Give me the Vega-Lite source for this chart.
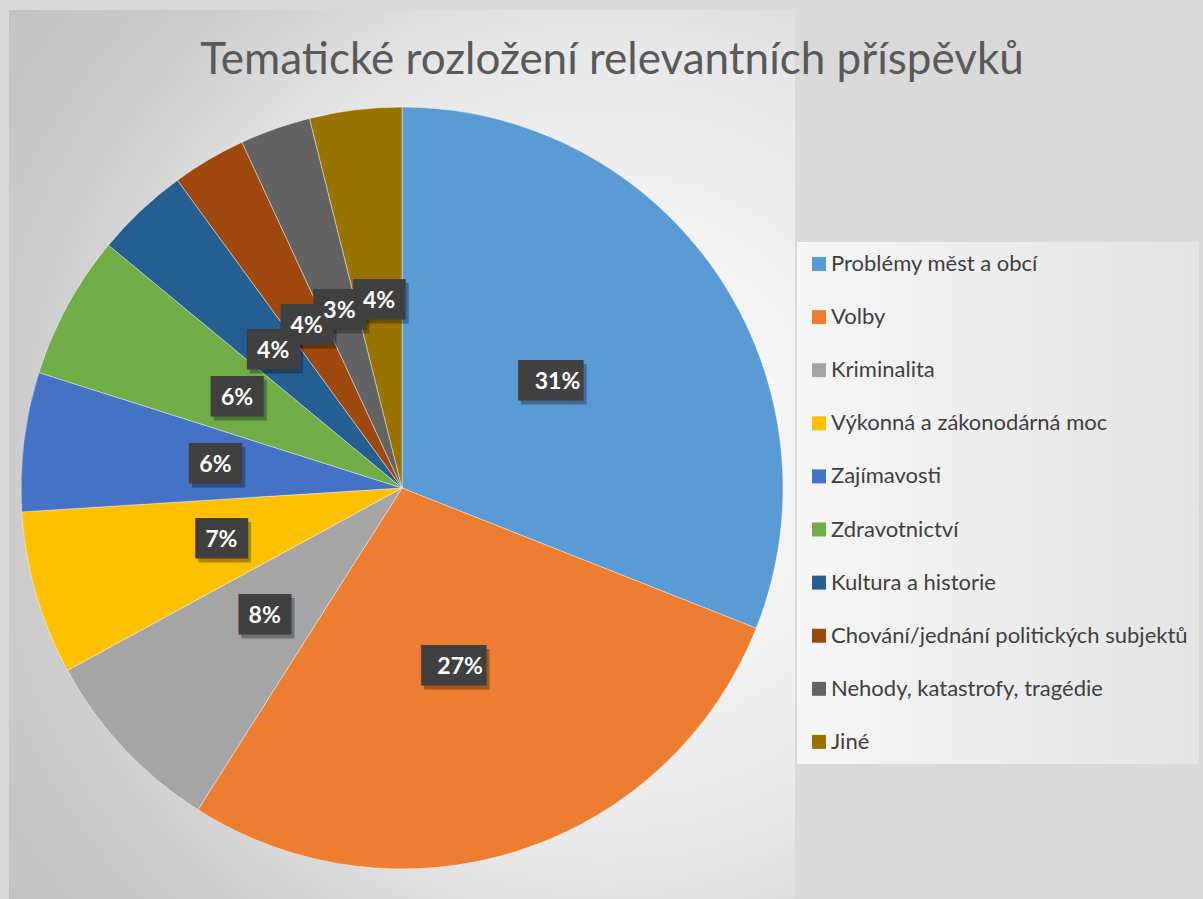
{
  "$schema": "https://vega.github.io/schema/vega-lite/v6.json",
  "autosize": "none",
  "width": 786,
  "height": 956,
  "padding": {"left": 9, "top": 10, "right": 408, "bottom": -67},
  "background": "#d9d9d9",
  "view": {
    "stroke": null,
    "fill": {
      "gradient": "radial",
      "x1": 0.713, "y1": 0.464, "r1": 0,
      "x2": 0.713, "y2": 0.464, "r2": 0.774,
      "stops": [
        {"offset": 0, "color": "#ffffff"},
        {"offset": 0.55, "color": "#e8e8e8"},
        {"offset": 0.8, "color": "#cccccc"},
        {"offset": 1, "color": "#c2c2c2"}
      ]
    }
  },
  "title": {
    "text": "Tematické rozložení relevantních příspěvků",
    "anchor": "middle",
    "frame": "group",
    "baseline": "alphabetic",
    "offset": 0,
    "dx": 210,
    "dy": 108,
    "font": "Lato",
    "fontSize": 44,
    "fontWeight": "normal",
    "color": "#595959"
  },
  "data": {
    "values": [
      {"idx": 1, "name": "Problémy měst a obcí", "value": 31.0, "label": "31%"},
      {"idx": 2, "name": "Volby", "value": 28.0, "label": "27%"},
      {"idx": 3, "name": "Kriminalita", "value": 8.06, "label": "8%"},
      {"idx": 4, "name": "Výkonná a zákonodárná moc", "value": 6.94, "label": "7%"},
      {"idx": 5, "name": "Zajímavosti", "value": 5.9, "label": "6%"},
      {"idx": 6, "name": "Zdravotnictví", "value": 6.1, "label": "6%"},
      {"idx": 7, "name": "Kultura a historie", "value": 3.97, "label": "4%"},
      {"idx": 8, "name": "Chování/jednání politických subjektů", "value": 3.13, "label": "4%"},
      {"idx": 9, "name": "Nehody, katastrofy, tragédie", "value": 3.0, "label": "3%"},
      {"idx": 10, "name": "Jiné", "value": 3.9, "label": "4%"}
    ]
  },
  "encoding": {
    "theta": {"field": "value", "type": "quantitative", "stack": true},
    "order": {"field": "idx", "type": "quantitative"}
  },
  "layer": [
    {
      "mark": {"type": "arc", "radius": 381, "stroke": "#ffffff", "strokeWidth": 0.6, "strokeOpacity": 0.7},
      "encoding": {
        "color": {
          "field": "name",
          "type": "nominal",
          "scale": {
            "domain": ["Problémy měst a obcí", "Volby", "Kriminalita", "Výkonná a zákonodárná moc", "Zajímavosti", "Zdravotnictví", "Kultura a historie", "Chování/jednání politických subjektů", "Nehody, katastrofy, tragédie", "Jiné"],
            "range": ["#5B9BD5", "#ED7D31", "#A5A5A5", "#FFC000", "#4472C4", "#70AD47", "#255E91", "#9E480E", "#636363", "#997300"]
          },
          "legend": {
            "title": null,
            "orient": "none",
            "legendX": 788,
            "legendY": 232,
            "padding": 11,
            "fillColor": {"value": {
              "gradient": "linear",
              "x1": 0, "y1": 0.5, "x2": 1, "y2": 0.5,
              "stops": [
                {"offset": 0, "color": "#f6f6f6"},
                {"offset": 1, "color": "#e4e4e4"}
              ]
            }},
            "symbolType": "square",
            "symbolSize": 196,
            "symbolStrokeWidth": 0,
            "labelFont": "Lato",
            "labelFontSize": 22,
            "labelColor": "#404040",
            "labelOffset": 1,
            "labelLimit": 0,
            "rowPadding": 31.1
          }
        }
      }
    },
    {
      "mark": {"type": "text", "radius": 188, "font": "DejaVu Sans", "fontSize": 34, "baseline": "middle", "align": "center", "dx": 3, "dy": 4, "color": "#000000", "opacity": 0.3},
      "encoding": {
        "text": {"condition": {"test": "length(datum.label) > 2", "value": "██▌"}, "value": "██"}
      }
    },
    {
      "mark": {"type": "text", "radius": 188, "font": "DejaVu Sans", "fontSize": 34, "baseline": "middle", "align": "center", "color": "#404040"},
      "encoding": {
        "text": {"condition": {"test": "length(datum.label) > 2", "value": "██▌"}, "value": "██"}
      }
    },
    {
      "mark": {"type": "text", "radius": 188, "font": "Lato", "fontSize": 23, "fontWeight": "bold", "baseline": "middle", "align": "center", "color": "#ffffff"},
      "encoding": {
        "text": {"field": "label", "type": "nominal"}
      }
    }
  ]
}
